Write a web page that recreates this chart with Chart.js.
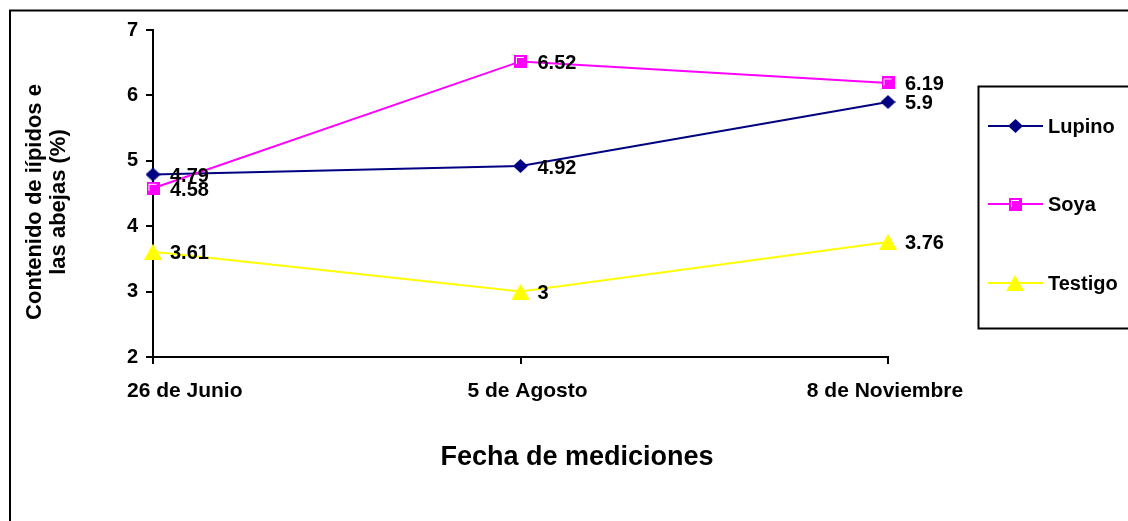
<!DOCTYPE html>
<html>
<head>
<meta charset="utf-8">
<script src="https://cdn.jsdelivr.net/npm/chart.js@4/dist/chart.umd.min.js"></script>
<style>
  html, body { margin: 0; padding: 0; background: #ffffff; }
  #wrap { width: 1128px; height: 521px; position: relative; }
</style>
</head>
<body>
<div id="wrap"><canvas id="c" width="1128" height="521"></canvas></div>
<script>
// Series data
const categories = ['26 de Junio', '5 de Agosto', '8 de Noviembre'];
const lupino = [4.79, 4.92, 5.9];
const soya = [4.58, 6.52, 6.19];
const testigo = [3.61, 3, 3.76];
const seriesNames = ['Lupino', 'Soya', 'Testigo'];
const yTicks = [2, 3, 4, 5, 6, 7];
const xTitle = 'Fecha de mediciones';
const yTitle = ['Contenido de iípidos e', 'las abejas (%)'];

const FONT = "'Liberation Sans', Arial, Helvetica, sans-serif";
const NAVY = '#000080';
const MAGENTA = '#ff00ff';
const YELLOW = '#ffff00';

// Marker bitmaps (diamond, square with white highlight, triangle)
function makeDiamond() {
  const c = document.createElement('canvas');
  c.width = 15; c.height = 14;
  const g = c.getContext('2d');
  g.fillStyle = NAVY;
  g.beginPath();
  g.moveTo(7.5, 0); g.lineTo(15, 7); g.lineTo(7.5, 14); g.lineTo(0, 7);
  g.closePath(); g.fill();
  return c;
}
function makeSquare() {
  const c = document.createElement('canvas');
  c.width = 13; c.height = 13;
  const g = c.getContext('2d');
  g.fillStyle = MAGENTA;
  g.fillRect(0, 0, 13, 13);
  g.fillStyle = '#ffffff';
  g.fillRect(2, 2, 8, 1);
  g.fillRect(2, 2, 1, 7);
  return c;
}
function makeTriangle() {
  const c = document.createElement('canvas');
  c.width = 18; c.height = 16;
  const g = c.getContext('2d');
  g.fillStyle = YELLOW;
  g.beginPath();
  g.moveTo(9, 0); g.lineTo(18, 16); g.lineTo(0, 16);
  g.closePath(); g.fill();
  return c;
}
const markers = [makeDiamond(), makeSquare(), makeTriangle()];
const colors = [NAVY, MAGENTA, YELLOW];
const values = [lupino, soya, testigo];

// Frame, axis texts, value labels and legend
const decorations = {
  id: 'decorations',
  afterDraw(chart) {
    const ctx = chart.ctx;
    ctx.save();

    // outer frame
    ctx.strokeStyle = '#000';
    ctx.lineWidth = 2;
    ctx.strokeRect(10, 10.5, 1300, 700);

    // y axis title (two rotated lines)
    ctx.fillStyle = '#000';
    ctx.font = 'bold 22px ' + FONT;
    ctx.textAlign = 'center';
    ctx.textBaseline = 'middle';
    const yMid = 202;
    const lineX = [35, 59];
    yTitle.forEach((t, i) => {
      ctx.save();
      ctx.translate(lineX[i], yMid);
      ctx.rotate(-Math.PI / 2);
      ctx.fillText(t, 0, 0);
      ctx.restore();
    });

    // category labels
    const xScale = chart.scales.x;
    ctx.font = 'bold 21px ' + FONT;
    ctx.textBaseline = 'middle';
    categories.forEach((label, i) => {
      const px = xScale.getPixelForValue(i);
      if (i === 0) {
        ctx.textAlign = 'left';
        ctx.fillText(label, px - 26, 391);
      } else if (i === categories.length - 1) {
        ctx.textAlign = 'center';
        ctx.fillText(label, px - 3, 391);
      } else {
        ctx.textAlign = 'center';
        ctx.fillText(label, px + 7, 391);
      }
    });

    // x axis title
    ctx.font = 'bold 27px ' + FONT;
    ctx.textAlign = 'center';
    ctx.fillText(xTitle, 577, 458);

    // value labels
    ctx.font = 'bold 20px ' + FONT;
    ctx.textAlign = 'left';
    chart.data.datasets.forEach((ds, di) => {
      const meta = chart.getDatasetMeta(di);
      meta.data.forEach((pt, i) => {
        ctx.fillText(String(ds.data[i]), pt.x + 17, pt.y + 2);
      });
    });

    // legend box
    const boxL = 978, boxT = 86, boxB = 328;
    ctx.lineWidth = 2;
    ctx.strokeStyle = '#000';
    ctx.beginPath();
    ctx.moveTo(1200, boxT + 0.5);
    ctx.lineTo(boxL + 0.5, boxT + 0.5);
    ctx.lineTo(boxL + 0.5, boxB + 0.5);
    ctx.lineTo(1200, boxB + 0.5);
    ctx.stroke();

    const itemY = [126, 204, 283];
    ctx.font = 'bold 20px ' + FONT;
    ctx.textAlign = 'left';
    ctx.textBaseline = 'middle';
    seriesNames.forEach((name, i) => {
      const y = itemY[i];
      ctx.strokeStyle = colors[i];
      ctx.lineWidth = 2;
      ctx.beginPath();
      ctx.moveTo(988, y);
      ctx.lineTo(1043, y);
      ctx.stroke();
      const m = markers[i];
      ctx.drawImage(m, Math.round(1015 - m.width / 2), Math.round(y - m.height / 2));
      ctx.fillStyle = '#000';
      ctx.fillText(name, 1048, y + 1);
    });

    ctx.restore();
  }
};

Chart.defaults.font.family = FONT;
Chart.defaults.color = '#000';

new Chart(document.getElementById('c'), {
  type: 'line',
  data: {
    labels: categories,
    datasets: seriesNames.map((name, i) => ({
      label: name,
      data: values[i],
      borderColor: colors[i],
      backgroundColor: colors[i],
      borderWidth: 2,
      pointStyle: markers[i],
      pointRadius: 8,
      pointHoverRadius: 8,
      tension: 0,
      fill: false,
      clip: false,
      order: 3 - i
    }))
  },
  options: {
    responsive: false,
    devicePixelRatio: 1,
    animation: false,
    events: [],
    layout: { padding: { left: 0, top: 30, right: 240, bottom: 0 } },
    plugins: {
      legend: { display: false },
      tooltip: { enabled: false },
      title: { display: false }
    },
    scales: {
      x: {
        type: 'category',
        offset: false,
        grid: {
          drawOnChartArea: false,
          drawTicks: true,
          tickLength: 7,
          color: '#000',
          lineWidth: 2
        },
        border: { display: true, color: '#000', width: 2 },
        ticks: { display: false },
        afterFit(scale) { scale.height = 521 - 357; }
      },
      y: {
        min: yTicks[0],
        max: yTicks[yTicks.length - 1],
        afterBuildTicks(scale) { scale.ticks = yTicks.map(v => ({ value: v })); },
        grid: {
          drawOnChartArea: false,
          drawTicks: true,
          tickLength: 7,
          color: '#000',
          lineWidth: 2
        },
        border: { display: true, color: '#000', width: 2 },
        ticks: {
          font: { size: 20, weight: 'bold' },
          color: '#000',
          padding: 8
        },
        afterFit(scale) { scale.width = 153; }
      }
    }
  },
  plugins: [decorations]
});
</script>
</body>
</html>
